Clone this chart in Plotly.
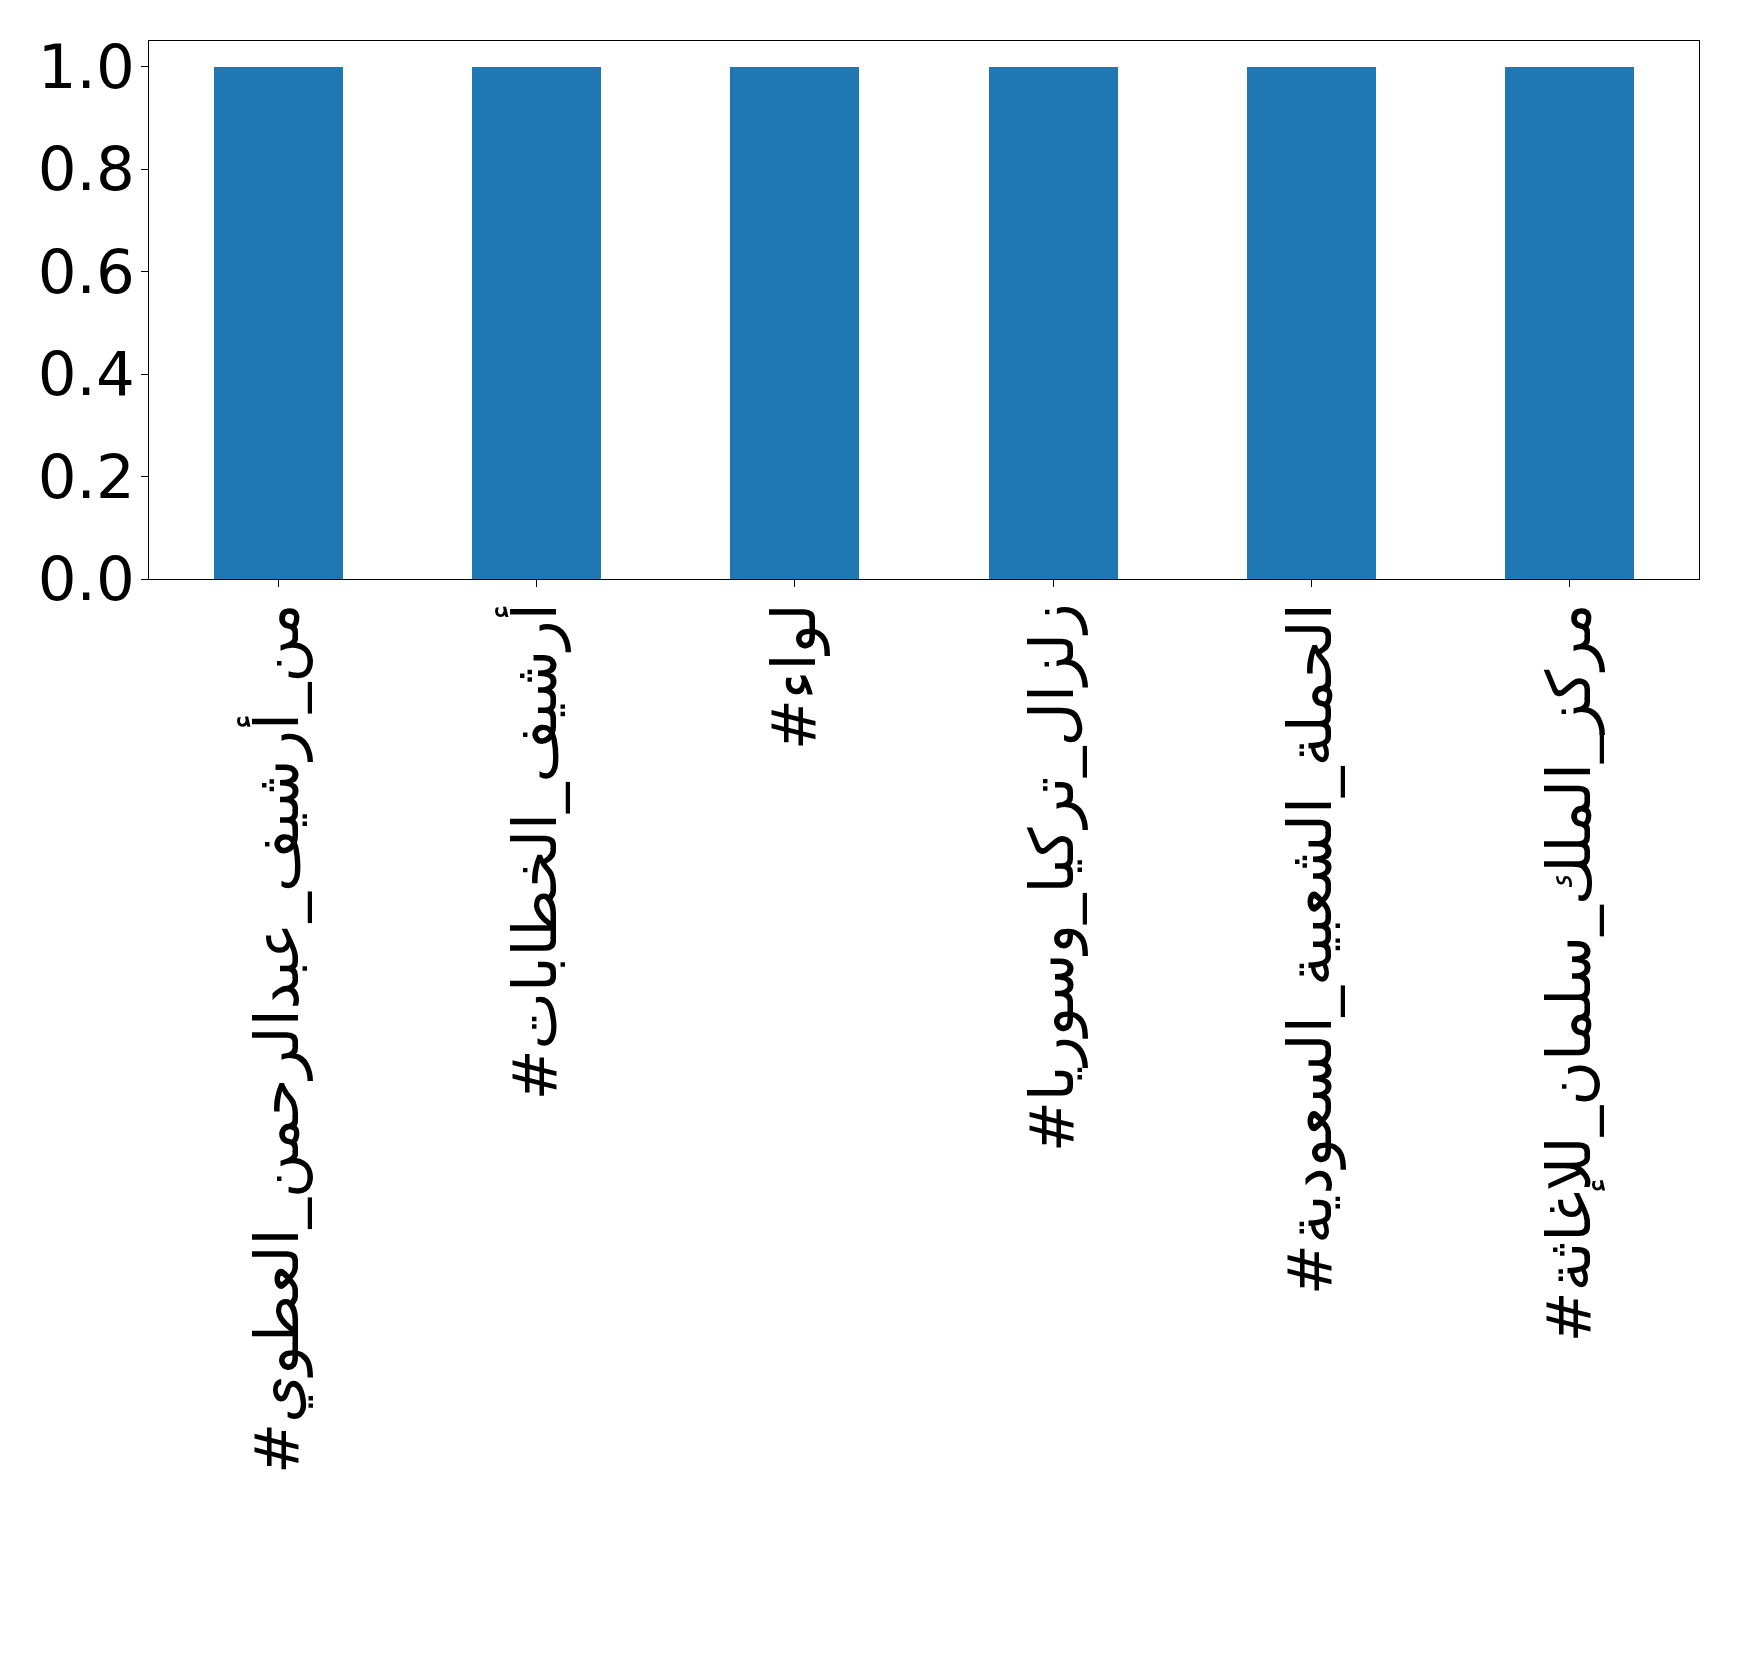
import plotly.graph_objects as go

categories = [
    "#من_أرشيف_عبدالرحمن_العطوي",
    "#أرشيف_الخطابات",
    "#لواء",
    "#زلزال_ترکیا_وسوريا",
    "#الحملة_الشعبية_السعودية",
    "#مركز_الملك_سلمان_للإغاثة",
]
values = [1, 1, 1, 1, 1, 1]
y_ticks = [0.0, 0.2, 0.4, 0.6, 0.8, 1.0]

x_pos = list(range(len(categories)))

fig = go.Figure(
    go.Bar(
        x=x_pos,
        y=values,
        width=0.5,
        marker=dict(color="#1f77b4", line=dict(width=0)),
    )
)

font = dict(family="DejaVu Sans", size=61, color="black")

fig.update_layout(
    width=1739,
    height=1676,
    margin=dict(l=141, r=48, t=33, b=1105, pad=0),
    paper_bgcolor="white",
    plot_bgcolor="white",
    showlegend=False,
    font=font,
    bargap=0,
)
fig.update_xaxes(
    range=[-0.5, 5.5],
    tickmode="array",
    tickvals=x_pos,
    ticktext=categories,
    tickangle=-90,
    tickfont=font,
    ticks="outside",
    ticklen=7,
    tickwidth=1,
    tickcolor="black",
    ticklabelstandoff=-8,
    showline=True,
    linecolor="black",
    linewidth=1,
    mirror=True,
    showgrid=False,
    zeroline=False,
)
fig.update_yaxes(
    range=[0, 1.05],
    tickmode="array",
    tickvals=y_ticks,
    ticktext=[f"{v:.1f}" for v in y_ticks],
    tickfont=font,
    ticks="outside",
    ticklen=7,
    tickwidth=1,
    tickcolor="black",
    ticklabelstandoff=-6,
    showline=True,
    linecolor="black",
    linewidth=1,
    mirror=True,
    showgrid=False,
    zeroline=False,
)

fig.write_html("out.html")
